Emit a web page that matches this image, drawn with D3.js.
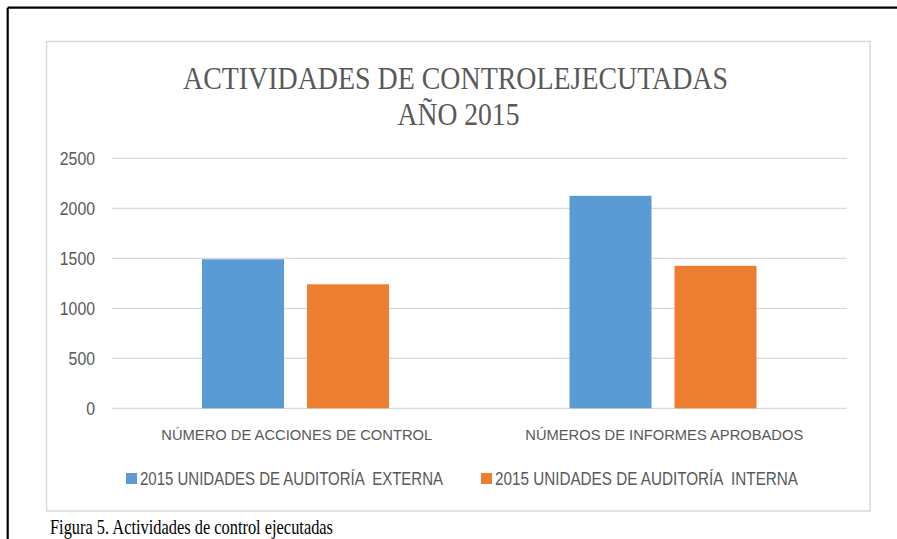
<!DOCTYPE html>
<html>
<head>
<meta charset="utf-8">
<script src="https://cdn.jsdelivr.net/npm/d3@7/dist/d3.min.js"></script>
<style>
  body { margin: 0; background: #fff; }
  svg { display: block; }
</style>
</head>
<body>
<svg id="chart" width="897" height="539"></svg>
<script>
const categorias = ['NÚMERO DE ACCIONES DE CONTROL', 'NÚMEROS DE INFORMES APROBADOS']
const series = ['2015 UNIDADES DE AUDITORÍA  EXTERNA', '2015 UNIDADES DE AUDITORÍA  INTERNA']
const externa = [1490, 2125]
const interna = [1240, 1425]
const yTicks = [0, 500, 1000, 1500, 2000, 2500]
const colores = ['#5b9bd5', '#ed7d31']

const svg = d3.select('#chart')
const gris = '#595959'

// marco negro (solo arriba e izquierda)
svg.append('line').attr('x1', 7.7).attr('y1', 7.7).attr('x2', 897).attr('y2', 7.7)
    .attr('stroke', '#000').attr('stroke-width', 2.2)
svg.append('line').attr('x1', 7.7).attr('y1', 7.7).attr('x2', 7.7).attr('y2', 539)
    .attr('stroke', '#000').attr('stroke-width', 2.2)

// recuadro del grafico
svg.append('rect')
    .attr('x', 46.5).attr('y', 41.5).attr('width', 823.5).attr('height', 469.5)
    .attr('fill', '#fff').attr('stroke', '#d9d9d9').attr('stroke-width', 1.5)

const x = d3.scaleBand(categorias, [112, 847])
const x1 = d3.scaleBand(series, [90, 277]).paddingInner(23 / 105)
const y = d3.scaleLinear([0, 2500], [408.3, 158.3])

// rejilla
svg.append('g')
    .selectAll('line')
    .data(yTicks)
    .join('line')
    .attr('x1', 112).attr('x2', 847)
    .attr('y1', d => y(d)).attr('y2', d => y(d))
    .attr('stroke', '#d9d9d9').attr('stroke-width', 1.2)

// eje y
const yAxis = d3.axisLeft(y).tickValues(yTicks).tickFormat(d3.format('d')).tickSize(0).tickPadding(0)
const gy = svg.append('g').attr('transform', 'translate(95,0)').call(yAxis)
gy.select('.domain').remove()
gy.selectAll('text')
    .attr('font-family', 'Liberation Sans, Arial, sans-serif')
    .attr('font-size', '17.5px')
    .attr('fill', gris)
    .attr('dy', '0.36em')
    .attr('x', 0)
    .attr('textLength', d => String(d).length * 8.8)
    .attr('lengthAdjust', 'spacingAndGlyphs')

// barras
const datos = categorias.map((c, i) => ({cat: c, valores: [externa[i], interna[i]]}))
svg.append('g')
    .selectAll('g')
    .data(datos)
    .join('g')
    .attr('transform', d => `translate(${x(d.cat)},0)`)
    .selectAll('rect')
    .data(d => d.valores.map((v, j) => ({serie: series[j], v: v, j: j})))
    .join('rect')
    .attr('x', d => x1(d.serie))
    .attr('width', x1.bandwidth())
    .attr('y', d => y(d.v))
    .attr('height', d => y(0) - y(d.v))
    .attr('fill', d => colores[d.j])

// etiquetas del eje x
const anchosX = [271, 278]
svg.append('g')
    .selectAll('text')
    .data(categorias)
    .join('text')
    .attr('x', d => x(d) + x.bandwidth() / 2 + 1)
    .attr('y', 440)
    .attr('text-anchor', 'middle')
    .attr('font-family', 'Liberation Sans, Arial, sans-serif')
    .attr('font-size', '15.5px')
    .attr('fill', gris)
    .attr('textLength', (d, i) => anchosX[i])
    .attr('lengthAdjust', 'spacingAndGlyphs')
    .text(d => d)

// titulo
svg.append('text')
    .attr('x', 183).attr('y', 88.5)
    .attr('font-family', 'Liberation Serif, Times New Roman, serif')
    .attr('font-size', '31px')
    .attr('fill', gris)
    .attr('textLength', 545)
    .attr('lengthAdjust', 'spacingAndGlyphs')
    .text('ACTIVIDADES DE CONTROLEJECUTADAS')
svg.append('text')
    .attr('x', 397.5).attr('y', 124.5)
    .attr('font-family', 'Liberation Serif, Times New Roman, serif')
    .attr('font-size', '31px')
    .attr('fill', gris)
    .attr('textLength', 122)
    .attr('lengthAdjust', 'spacingAndGlyphs')
    .text('AÑO 2015')

// leyenda
const leyendaX = [126, 481]
const leyenda = svg.append('g')
    .selectAll('g')
    .data(series)
    .join('g')
    .attr('transform', (d, i) => `translate(${leyendaX[i]},473)`)
leyenda.append('rect')
    .attr('width', 11).attr('height', 11)
    .attr('fill', (d, i) => colores[i])
leyenda.append('text')
    .attr('x', 14).attr('y', 12)
    .style('white-space', 'pre')
    .attr('font-family', 'Liberation Sans, Arial, sans-serif')
    .attr('font-size', '17.5px')
    .attr('fill', gris)
    .attr('textLength', 303)
    .attr('lengthAdjust', 'spacingAndGlyphs')
    .text(d => d)

// pie de figura
svg.append('text')
    .attr('x', 50).attr('y', 533.5)
    .attr('font-family', 'Liberation Serif, Times New Roman, serif')
    .attr('font-size', '21px')
    .attr('fill', '#000')
    .attr('textLength', 283)
    .attr('lengthAdjust', 'spacingAndGlyphs')
    .text('Figura 5. Actividades de control ejecutadas')
</script>
</body>
</html>
